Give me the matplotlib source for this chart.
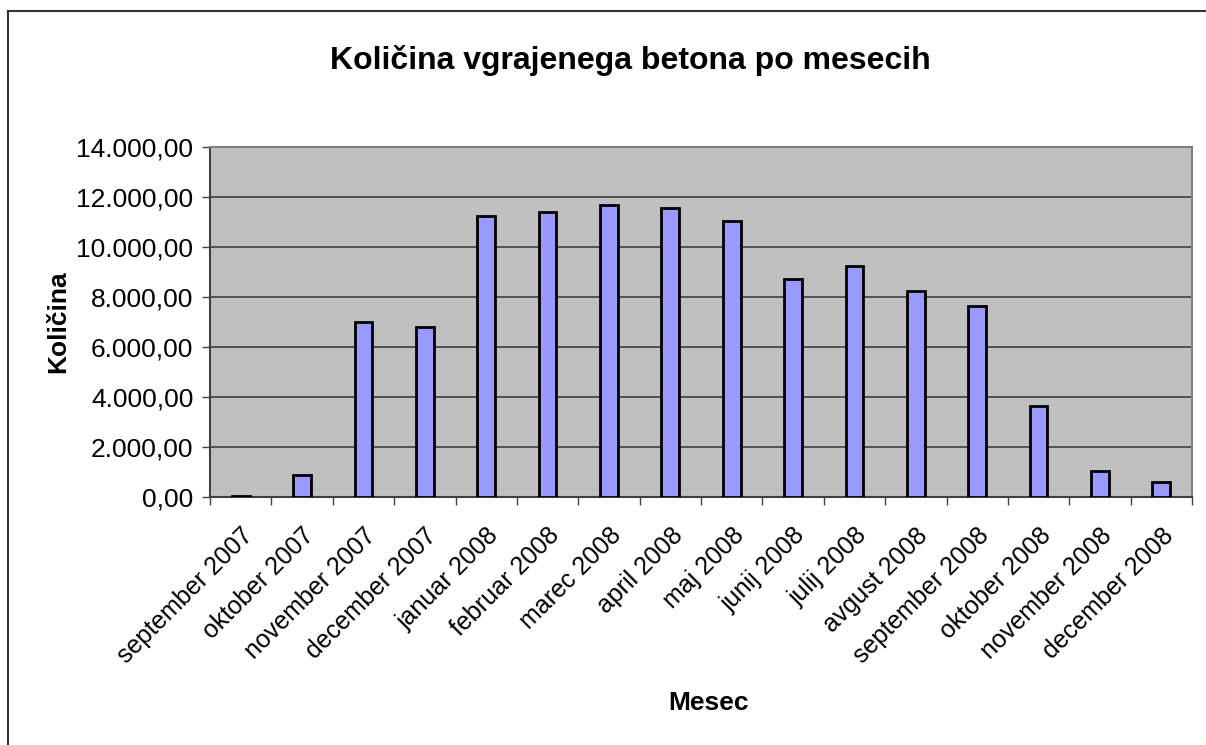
import matplotlib.pyplot as plt
from matplotlib.ticker import FuncFormatter, MultipleLocator
from matplotlib.lines import Line2D

plt.rcParams['font.family'] = ['Liberation Sans', 'DejaVu Sans']

# mesečni podatki
meseci = ['september 2007', 'oktober 2007', 'november 2007', 'december 2007',
          'januar 2008', 'februar 2008', 'marec 2008', 'april 2008', 'maj 2008',
          'junij 2008', 'julij 2008', 'avgust 2008', 'september 2008',
          'oktober 2008', 'november 2008', 'december 2008']
kolicina = [40, 880, 7020, 6810, 11260, 11420, 11700, 11570, 11050,
            8740, 9240, 8230, 7630, 3660, 1050, 610]


def fmt_si(v, pos):
    # 14000 -> "14.000,00"
    s = f"{v:,.2f}"
    return s.replace(',', 'X').replace('.', ',').replace('X', '.')


fig = plt.figure(figsize=(12.06, 7.45), dpi=100)
ax = fig.add_axes([210 / 1206, 1 - 497 / 745, 982 / 1206, 350 / 745])

x = list(range(len(meseci)))
ax.bar(x, kolicina, width=0.29, color='#9999FF', edgecolor='black',
       linewidth=2, zorder=3)

ax.set_facecolor('#C0C0C0')
ax.set_xlim(-0.5, len(meseci) - 0.5)
ax.set_ylim(0, 14000)
ax.yaxis.set_major_locator(MultipleLocator(2000))
ax.yaxis.set_major_formatter(FuncFormatter(fmt_si))
ax.grid(axis='y', color='#404040', linewidth=1.2, zorder=1)

# kljukice med kategorijami
ax.set_xticks([i - 0.5 for i in range(len(meseci) + 1)], minor=False)
ax.set_xticklabels([])
ax.set_xticks(x, minor=True)
ax.set_xticklabels(meseci, minor=True, rotation=45, ha='right',
                   rotation_mode='anchor', fontsize=18)
ax.tick_params(axis='x', which='minor', length=0, pad=19)
ax.tick_params(axis='x', which='major', length=6, width=1, color='#404040')
ax.tick_params(axis='y', length=6, width=1, color='#404040', labelsize=19, pad=6)

for side in ax.spines.values():
    side.set_color('#808080')
    side.set_linewidth(1.5)
ax.spines['left'].set_color('#404040')
ax.spines['bottom'].set_color('#404040')

fig.text(0.523, 1 - 60 / 745, 'Količina vgrajenega betona po mesecih',
         ha='center', va='center', fontsize=23, fontweight='bold')
fig.text(708 / 1206, 1 - 703 / 745, 'Mesec', ha='center', va='center',
         fontsize=19, fontweight='bold')
fig.text(58 / 1206, 1 - 322 / 745, 'Količina', ha='center', va='center',
         rotation=90, fontsize=19, fontweight='bold')

# okvir grafikona
fig.add_artist(Line2D([8 / 1206, 1], [1 - 11 / 745] * 2, color='#333333',
                      linewidth=1.5, transform=fig.transFigure))
fig.add_artist(Line2D([8 / 1206] * 2, [0, 1 - 11 / 745], color='#333333',
                      linewidth=1.5, transform=fig.transFigure))

fig.savefig('out.png', dpi=100)
